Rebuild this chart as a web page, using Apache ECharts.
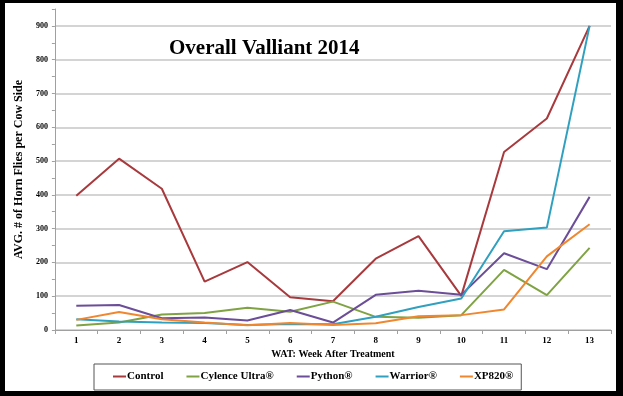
<!DOCTYPE html>
<html>
<head>
<meta charset="utf-8">
<script src="https://cdn.jsdelivr.net/npm/echarts@6/dist/echarts.min.js"></script>
<style>
  html, body { margin: 0; padding: 0; background: #000; }
  #main {
    position: absolute; left: 5px; top: 3px;
    width: 611px; height: 388px;
    background: #fff;
  }
</style>
</head>
<body>
<div id="main"></div>
<script>
// weeks after treatment
var weeks = ['1', '2', '3', '4', '5', '6', '7', '8', '9', '10', '11', '12', '13'];

// avg horn flies per cow side
var control  = [397, 507, 418, 143, 201, 97, 85, 211, 278, 101, 527, 626, 900];
var cylence  = [13, 22, 46, 50, 66, 54, 84, 39, 36, 44, 178, 103, 243];
var python   = [72, 74, 35, 37, 28, 59, 22, 104, 116, 104, 227, 180, 394];
var warrior  = [32, 25, 22, 21, 15, 18, 17, 39, 68, 93, 292, 303, 900];
var xp820    = [30, 53, 32, 22, 14, 21, 15, 20, 41, 44, 61, 218, 313];

var font = 'Liberation Serif';

var myChart = echarts.init(document.getElementById('main'));

function line(name, data, color) {
  return {
    name: name,
    type: 'line',
    data: data,
    symbol: 'none',
    lineStyle: { color: color, width: 2 },
    itemStyle: { color: color }
  };
}

myChart.setOption({
  animation: false,
  title: {
    text: 'Overall Valliant 2014',
    left: 159,
    top: 30,
    textStyle: { fontFamily: font, fontWeight: 'bold', fontSize: 21, color: '#000' }
  },
  legend: {
    left: 89,
    top: 361,
    padding: [7, 8, 8, 19],
    borderColor: '#555',
    borderWidth: 1,
    itemGap: 23,
    itemWidth: 13,
    itemHeight: 2,
    icon: 'rect',
    textStyle: { fontFamily: font, fontWeight: 'bold', fontSize: 11, color: '#000', padding: [0, 0, 0, -4] },
    data: ['Control', 'Cylence Ultra®', 'Python®', 'Warrior®', 'XP820®']
  },
  grid: { left: 44, right: 5, top: 6, bottom: 61, containLabel: false },
  xAxis: {
    type: 'category',
    data: weeks,
    boundaryGap: true,
    name: 'WAT: Week After Treatment',
    nameLocation: 'middle',
    nameGap: 17,
    nameTextStyle: { fontFamily: font, fontWeight: 'bold', fontSize: 10, color: '#000' },
    axisLine: { lineStyle: { color: '#a0a0a0', width: 1 } },
    axisTick: { show: true, length: 4, alignWithLabel: false, lineStyle: { color: '#a0a0a0' } },
    axisLabel: { fontFamily: font, fontWeight: 'bold', fontSize: 9, color: '#000', margin: 6 }
  },
  yAxis: {
    type: 'value',
    min: 0,
    max: 950,
    interval: 100,
    name: 'AVG. # of Horn Flies per Cow Side',
    nameLocation: 'middle',
    nameGap: 17,
    nameTextStyle: { fontFamily: font, fontWeight: 'bold', fontSize: 12, color: '#000' },
    axisLine: { show: true, lineStyle: { color: '#a0a0a0', width: 1 } },
    axisTick: { show: true, length: 3, lineStyle: { color: '#a0a0a0' } },
    minorTick: { show: true, splitNumber: 2, length: 3, lineStyle: { color: '#a0a0a0' } },
    axisLabel: {
      fontFamily: font, fontWeight: 'bold', fontSize: 8, color: '#000', margin: 7,
      formatter: function (v) { return v > 900 ? '' : v; }
    },
    splitLine: { show: true, showMaxLine: false, lineStyle: { color: '#c6c6c6', width: 1.5 } }
  },
  series: [
    line('Control', control, '#A8393C'),
    line('Cylence Ultra®', cylence, '#7FA343'),
    line('Python®', python, '#6C4D98'),
    line('Warrior®', warrior, '#2FA0BF'),
    line('XP820®', xp820, '#F0872F')
  ]
});
</script>
</body>
</html>
